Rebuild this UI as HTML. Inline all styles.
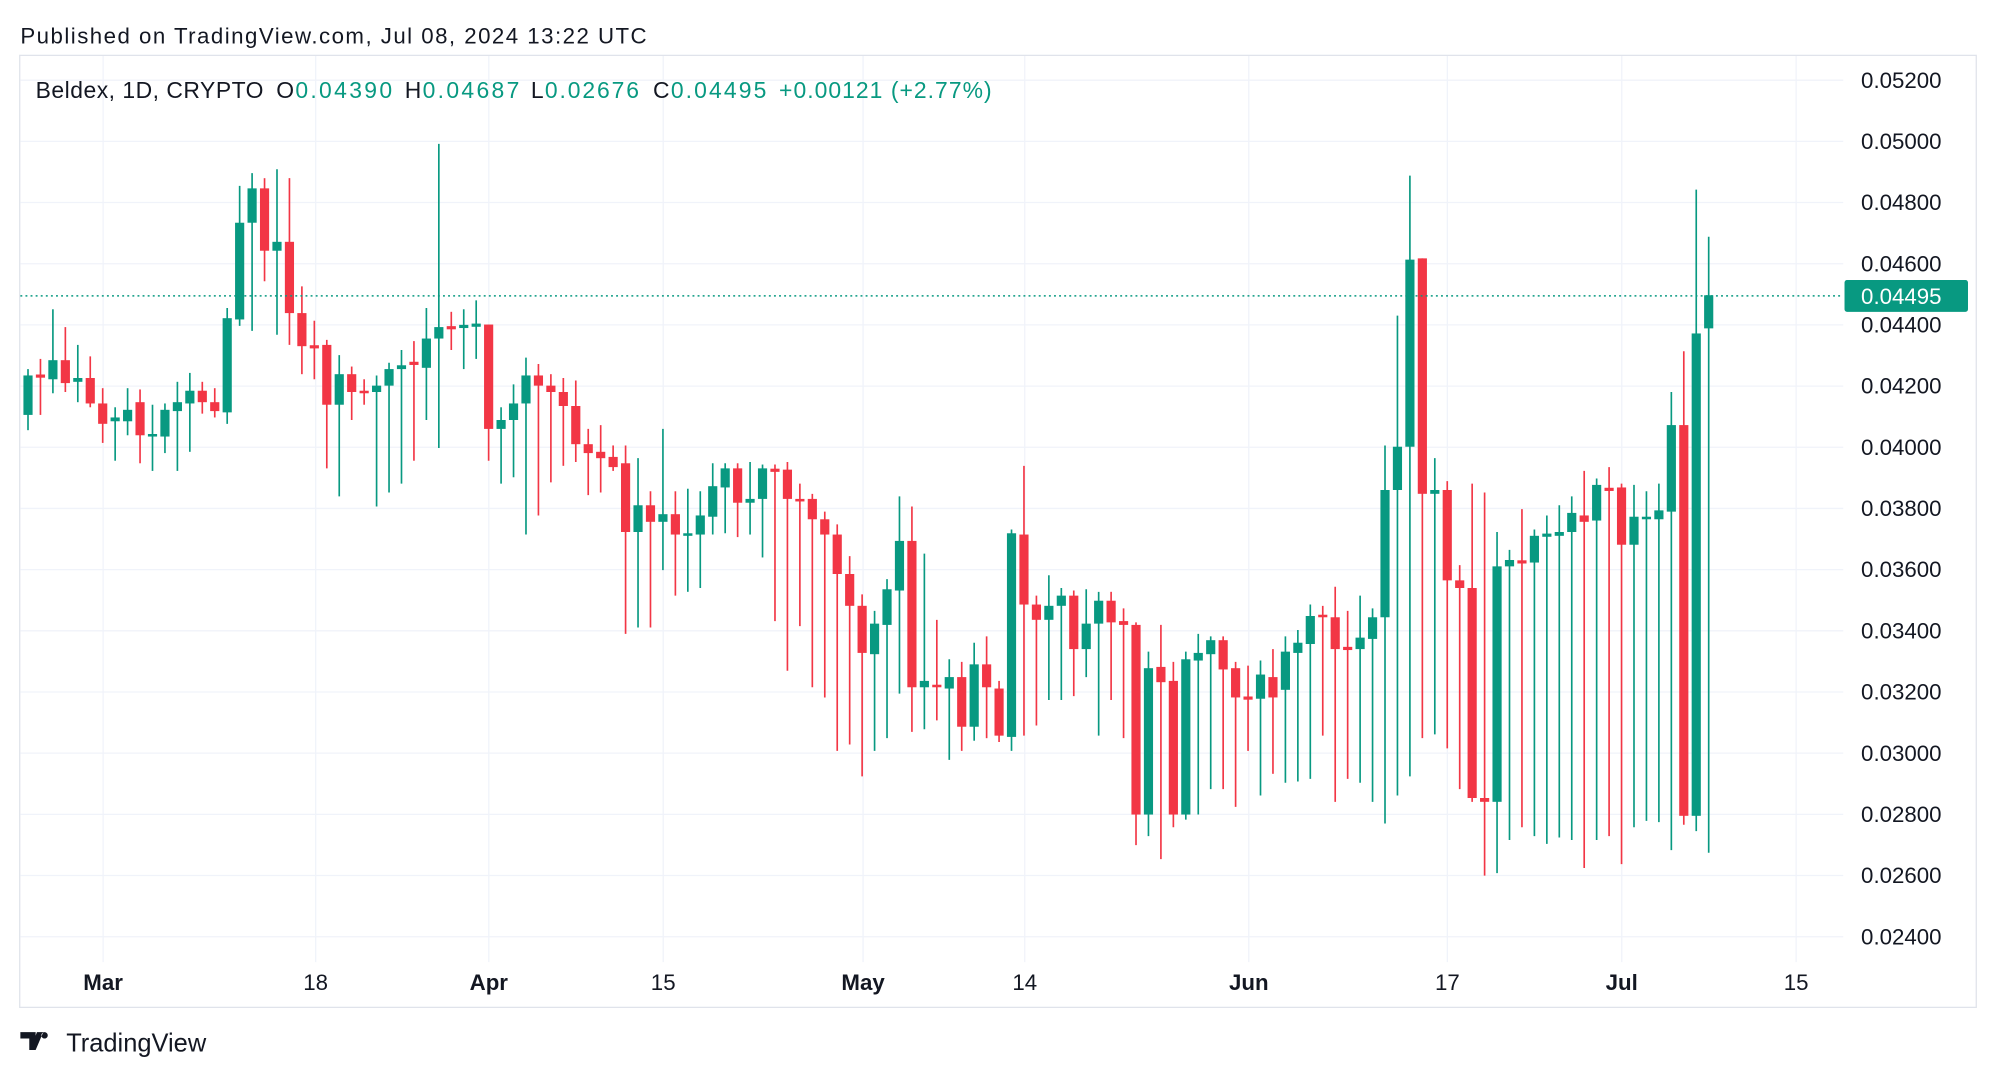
<!DOCTYPE html>
<html><head><meta charset="utf-8"><style>
html,body{margin:0;padding:0;background:#fff;}
svg{display:block;}
text{font-family:"Liberation Sans",sans-serif;}
</style></head><body>
<svg id="c" width="1996" height="1078" viewBox="0 0 1568 847" preserveAspectRatio="none" xmlns="http://www.w3.org/2000/svg">
<rect x="0" y="0" width="1568" height="847" fill="#fff"/>
<text x="16" y="34" font-size="17.5" fill="#131722" textLength="492">Published on TradingView.com, Jul 08, 2024 13:22 UTC</text>
<rect x="15.5" y="43.5" width="1537" height="748" fill="none" stroke="#e0e3eb" stroke-width="1"/>
<g id="grid"></g>
<g id="candles"></g>
<line x1="16" y1="232.5" x2="1448" y2="232.5" stroke="#089981" stroke-width="1.2" stroke-dasharray="1.5,2.5"/>
<g font-size="18">
<text x="28" y="77" fill="#131722" textLength="179">Beldex, 1D, CRYPTO</text>
<text x="217" y="77" fill="#131722">O</text><text x="232" y="77" fill="#089981" textLength="76">0.04390</text>
<text x="318" y="77" fill="#131722">H</text><text x="332" y="77" fill="#089981" textLength="76">0.04687</text>
<text x="417" y="77" fill="#131722">L</text><text x="428" y="77" fill="#089981" textLength="74">0.02676</text>
<text x="513" y="77" fill="#131722">C</text><text x="527" y="77" fill="#089981" textLength="75">0.04495</text>
<text x="612" y="77" fill="#089981" textLength="167">+0.00121 (+2.77%)</text>
</g>
<g id="axis"></g>
<rect x="1449" y="220" width="97" height="25" rx="2" fill="#089981"/>
<text x="1462" y="239" font-size="17.5" fill="#fff">0.04495</text>
<g transform="translate(16,811)"><path d="M0 0h12v14h-5v-9h-7z M13 0h5l-6 14h-4z M19 0a2.5 2.5 0 1 0 0.01 0z" fill="#131722"/></g>
<text x="52" y="826" font-size="20" fill="#131722">TradingView</text>
</svg>
<script>
var ns="http://www.w3.org/2000/svg";
function el(p,t,a,txt){var e=document.createElementNS(ns,t);for(var k in a)e.setAttribute(k,a[k]);if(txt)e.textContent=txt;p.appendChild(e);return e;}
var grid=document.getElementById('grid'),axis=document.getElementById('axis'),cg=document.getElementById('candles');
var prices=["0.05200","0.05000","0.04800","0.04600","0.04400","0.04200","0.04000","0.03800","0.03600","0.03400","0.03200","0.03000","0.02800","0.02600","0.02400"];
for(var i=0;i<15;i++){var y=63+i*48.07;
 el(grid,'line',{x1:16,x2:1448,y1:y,y2:y,stroke:'#f0f3fa','stroke-width':1});
 if(i!=4) el(axis,'text',{x:1462,y:y+6,'font-size':17.5,fill:'#131722'},prices[i]);
 else el(axis,'text',{x:1462,y:y+6,'font-size':17.5,fill:'#131722'},prices[i]);}
var xt=[[81,"Mar",1],[248,"18",0],[384,"Apr",1],[521,"15",0],[678,"May",1],[805,"14",0],[981,"Jun",1],[1137,"17",0],[1274,"Jul",1],[1411,"15",0]];
xt.forEach(function(t){el(grid,'line',{x1:t[0],x2:t[0],y1:44,y2:756,stroke:'#f0f3fa','stroke-width':1});
 el(axis,'text',{x:t[0],y:778,'font-size':17.5,fill:'#131722','text-anchor':'middle','font-weight':t[2]?'bold':'normal'},t[1]);});
var d=[[326,295,290,338],[295,296,282,326],[298,283,243,309],[283,301,257,308],[300,297,271,316],[297,317,280,320],[317,333,305,348],[331,328,320,362],[331,322,305,342],[316,342,306,364],
[343,341,318,370],[343,322,317,356],[323,316,300,370],[317,307,293,355],[307,316,300,325],[316,323,305,328],[324,250,242,333],[251,175,146,256],[175,148,136,260],[148,197,140,221],
[197,190,133,263],[190,246,140,271],[246,272,225,294],[272,273,252,298],[271,318,267,368],[318,294,279,390],[294,308,288,330],[307,309,298,318],[308,303,295,398],[303,290,285,387],
[290,287,275,380],[285,286,268,362],[289,266,242,330],[266,257,113,352],[257,258,245,275],[257,256,243,290],[256,255,236,282],[255,337,255,362],[337,330,320,380],[330,317,302,375],
[317,295,281,420],[295,303,286,405],[303,308,294,379],[308,319,297,366],[319,349,299,363],[349,356,337,389],[355,360,334,387],[359,367,350,370],[364,418,350,498],[418,397,360,493],
[397,410,386,493],[410,404,337,448],[404,420,386,468],[421,419,384,465],[420,405,386,462],[406,382,364,420],[383,368,364,419],[368,395,364,422],[395,392,363,420],[392,368,365,438],
[369,370,365,488],[369,392,363,527],[392,394,380,492],[392,408,388,540],[408,420,402,548],[420,451,412,590],[451,476,437,585],[476,513,467,610],[514,490,480,590],[491,463,455,580],
[464,425,390,545],[425,540,398,575],[540,535,435,573],[538,540,487,566],[541,532,518,597],[532,571,520,590],[571,522,505,582],[522,540,500,580],[541,578,535,583],[579,419,416,590],
[420,475,366,578],[475,487,468,570],[487,476,452,550],[476,468,462,550],[468,510,464,547],[510,490,463,532],[490,472,465,578],[472,489,465,550],[488,491,478,580],[491,640,489,664],
[640,525,512,657],[524,536,491,675],[535,640,520,650],[640,518,512,644],[519,513,498,640],[514,503,500,620],[503,526,500,620],[525,548,520,634],[548,549,523,590],[549,530,519,625],
[532,548,510,608],[542,512,500,615],[513,505,495,614],[506,484,475,612],[483,485,476,578],[485,510,461,630],[509,510,480,612],[510,501,468,615],[502,485,478,630],[485,385,350,647],
[385,351,248,625],[351,204,138,610],[203,388,203,580],[388,385,360,577],[385,456,378,588],[456,462,444,620],[462,627,380,630],[627,630,387,688],[630,445,418,686],[445,440,432,660],
[441,442,400,650],[442,421,416,657],[421,420,405,663],[421,418,397,658],[418,403,390,660],[405,410,370,682],[409,381,376,660],[384,385,367,657],[383,428,380,679],[428,406,381,650],
[408,406,386,645],[408,401,380,646],[402,334,308,668],[334,641,276,648],[641,262,149,653],[258,232,186,670]];
d.forEach(function(c,i){var x=22+i*9.78;var up=c[1]<=c[0];var col=up?'#089981':'#F23645';
 el(cg,'line',{x1:x,x2:x,y1:c[2],y2:c[3],stroke:col,'stroke-width':1.3});
 var t=Math.min(c[0],c[1]),b=Math.max(c[0],c[1]);if(b-t<1.5){t-=0.75;b+=0.75;}
 el(cg,'rect',{x:x-3.6,y:t,width:7.2,height:b-t,fill:col});});
</script>
</body></html>
